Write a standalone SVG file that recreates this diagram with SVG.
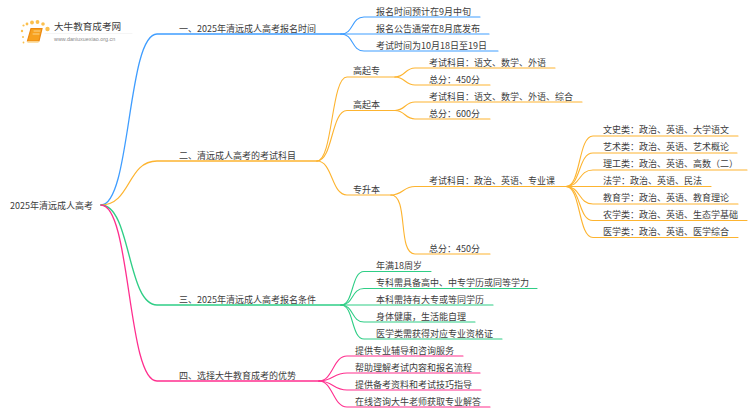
<svg xmlns="http://www.w3.org/2000/svg" width="750" height="410" viewBox="0 0 750 410">
<style>
text{font-family:"Noto Sans CJK SC","Liberation Sans",sans-serif;font-size:9px;fill:#3c3c3c}
.t text{transform:translateY(0.8px)}
path{fill:none;stroke-width:1.1;stroke-linecap:round}
.b{stroke:#3f9dff}.o{stroke:#fdb430}.g{stroke:#2fce86}.p{stroke:#ff2e8e}
.main{stroke-width:1.3}
.dot{fill:#fbc04e}
</style>
<rect width="750" height="410" fill="#ffffff"/>
<g id="logo">
<circle class="dot" cx="32" cy="22.500" r="1.900"/><circle class="dot" cx="37.500" cy="22" r="1.900"/><circle class="dot" cx="43" cy="24" r="1.800"/><circle class="dot" cx="47.500" cy="29" r="2.200"/><circle class="dot" cx="27" cy="24" r="1.400"/><circle class="dot" cx="23.500" cy="25.500" r="1.100"/><circle class="dot" cx="22" cy="31" r="1.200"/><circle class="dot" cx="23" cy="37" r="1"/><circle class="dot" cx="23.500" cy="42.500" r="0.900"/>
<path d="M31 28.500H42L39 41H27.500Z" style="fill:#f7a11f;stroke:#ec8a12;stroke-width:1.200"/>
<path d="M34 31H40M33 34H39" style="stroke:#fde3a8;stroke-width:0.800"/>
<path d="M28 42H38" style="stroke:#fbd68d;stroke-width:1.500"/>
<path d="M45 33.500H132" style="stroke:#eeeeee;stroke-width:0.600"/>
<text x="54" y="30" style="font-size:9.600px">大牛教育成考网</text>
<text x="54" y="40.500" style="font-size:5.400px;fill:#8a8a8a;font-family:'Liberation Sans',sans-serif">www.daniuxuexiao.org.cn</text>
</g>
<g id="connectors">
<path class="b main" d="M101 205C131 205 127 34 157 34H341"/>
<path class="o main" d="M101 205C131 205 127 161 157 161H317"/>
<path class="g main" d="M101 205C131 205 127 305 157 305H341"/>
<path class="p main" d="M101 205C131 205 127 381 157 381H319"/>
<path class="b" d="M341 34C354 34 351 17 364 17H480"/>
<path class="b" d="M341 34H489"/>
<path class="b" d="M341 34C354 34 351 51 364 51H498"/>
<path class="o" d="M317 161C333 161 331 77 347 77H395"/>
<path class="o" d="M317 161C333 161 331 110.500 347 110.500H395"/>
<path class="o" d="M317 161C333 161 331 195 347 195H391"/>
<path class="o" d="M395 77C405 77 405 68 415 68H555"/>
<path class="o" d="M395 77C405 77 405 85 415 85H490"/>
<path class="o" d="M395 110.500C405 110.500 405 102 415 102H582"/>
<path class="o" d="M395 110.500C405 110.500 405 119 415 119H490"/>
<path class="o" d="M391 195C403 195 403 186.500 415 186.500H566"/>
<path class="o" d="M391 195C409 195 397 254 415 254H490"/>
<path class="o" d="M566 186.500C581 186.500 578 136 593 136H738"/>
<path class="o" d="M566 186.500C581 186.500 578 153 593 153H737"/>
<path class="o" d="M566 186.500C581 186.500 578 170 593 170H747"/>
<path class="o" d="M566 186.500H711"/>
<path class="o" d="M566 186.500C581 186.500 578 204 593 204H738"/>
<path class="o" d="M566 186.500C581 186.500 578 220.500 593 220.500H747"/>
<path class="o" d="M566 186.500C581 186.500 578 237.500 593 237.500H738"/>
<path class="g" d="M341 305C354 305 351 271.500 364 271.500H431"/>
<path class="g" d="M341 305C354 305 351 288.500 364 288.500H537"/>
<path class="g" d="M341 305H493"/>
<path class="g" d="M341 305C354 305 351 322 364 322H475"/>
<path class="g" d="M341 305C354 305 351 339 364 339H502"/>
<path class="p" d="M319 381C333 381 333 356 347 356H463"/>
<path class="p" d="M319 381C333 381 333 373 347 373H480"/>
<path class="p" d="M319 381C333 381 333 390 347 390H481"/>
<path class="p" d="M319 381C333 381 333 407 347 407H490"/>
</g>
<g class="t">
<g id="root"><text x="10" y="208">2025年清远成人高考</text></g>
<g id="n1"><text x="179" y="31">一、2025年清远成人高考报名时间</text></g>
<g id="n1-1"><text x="376" y="14">报名时间预计在9月中旬</text></g>
<g id="n1-2"><text x="376" y="31">报名公告通常在8月底发布</text></g>
<g id="n1-3"><text x="376" y="48">考试时间为10月18日至19日</text></g>
<g id="n2"><text x="179" y="158">二、清远成人高考的考试科目</text></g>
<g id="n2-1"><text x="353" y="73">高起专</text></g>
<g id="n2-1-1"><text x="429" y="65">考试科目：语文、数学、外语</text></g>
<g id="n2-1-2"><text x="429" y="82">总分：450分</text></g>
<g id="n2-2"><text x="353" y="107">高起本</text></g>
<g id="n2-2-1"><text x="429" y="99">考试科目：语文、数学、外语、综合</text></g>
<g id="n2-2-2"><text x="429" y="116">总分：600分</text></g>
<g id="n2-3"><text x="353" y="192">专升本</text></g>
<g id="n2-3-1"><text x="429" y="183">考试科目：政治、英语、专业课</text></g>
<g id="n2-3-2"><text x="429" y="251">总分：450分</text></g>
<g id="n2-3-1-1"><text x="603" y="132">文史类：政治、英语、大学语文</text></g>
<g id="n2-3-1-2"><text x="603" y="149">艺术类：政治、英语、艺术概论</text></g>
<g id="n2-3-1-3"><text x="603" y="166">理工类：政治、英语、高数（二）</text></g>
<g id="n2-3-1-4"><text x="603" y="183">法学：政治、英语、民法</text></g>
<g id="n2-3-1-5"><text x="603" y="200">教育学：政治、英语、教育理论</text></g>
<g id="n2-3-1-6"><text x="603" y="217">农学类：政治、英语、生态学基础</text></g>
<g id="n2-3-1-7"><text x="603" y="234">医学类：政治、英语、医学综合</text></g>
<g id="n3"><text x="179" y="302">三、2025年清远成人高考报名条件</text></g>
<g id="n3-1"><text x="376" y="268">年满18周岁</text></g>
<g id="n3-2"><text x="376" y="285">专科需具备高中、中专学历或同等学力</text></g>
<g id="n3-3"><text x="376" y="302">本科需持有大专或等同学历</text></g>
<g id="n3-4"><text x="376" y="319">身体健康，生活能自理</text></g>
<g id="n3-5"><text x="376" y="336">医学类需获得对应专业资格证</text></g>
<g id="n4"><text x="179" y="378">四、选择大牛教育成考的优势</text></g>
<g id="n4-1"><text x="355" y="353">提供专业辅导和咨询服务</text></g>
<g id="n4-2"><text x="355" y="370">帮助理解考试内容和报名流程</text></g>
<g id="n4-3"><text x="355" y="387">提供备考资料和考试技巧指导</text></g>
<g id="n4-4"><text x="355" y="404">在线咨询大牛老师获取专业解答</text></g>
</g>
</svg>
